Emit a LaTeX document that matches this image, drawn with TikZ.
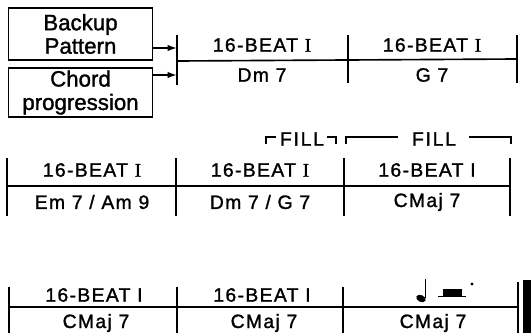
\documentclass[tikz,border=0pt]{standalone}
\usepackage{fontspec}
\setmainfont[FakeBold=1.4]{Liberation Sans}
\newfontfamily\romfont[FakeBold=1.4]{Liberation Serif}
\usetikzlibrary{arrows.meta, positioning}
\newcommand{\romI}{{\romfont I}}

\tikzset{
  srcbox/.style={draw, line width=1.4pt, minimum width=4.32cm, align=center, inner sep=0pt,
    font=\fontsize{19}{20}\selectfont\addfontfeatures{FakeBold=1.4}},
  beat/.style={inner sep=0pt, font=\fontsize{16.5}{18}\selectfont\addfontfeatures{LetterSpace=7,FakeBold=1.4}},
  chord/.style={inner sep=0pt, font=\fontsize{16.5}{18}\selectfont\addfontfeatures{LetterSpace=7,FakeBold=1.4}},
  fillmark/.style={inner sep=0pt, font=\fontsize{16.5}{18}\selectfont\addfontfeatures{LetterSpace=9,FakeBold=1.4}},
  barln/.style={line width=1.4pt},
}

\begin{document}
\begin{tikzpicture}[x=0.03cm, y=-0.03cm]
    \useasboundingbox (0,0) rectangle (531,333);

    % source boxes
    \node[srcbox, minimum height=1.56cm] (backup) at (80.5,34) {Backup\\Pattern};
    \node[srcbox, minimum height=1.47cm] (chordprog) at (80.5,92.5) {Chord\\progression};

    % row 1
    \coordinate (in1) at (177,48);
    \coordinate (in2) at (177,75);
    \draw[barln] (177,35) -- (177,85); % start bar
    \draw[barln] (348,35) -- (348,83);
    \draw[barln] (517,35) -- (517,83);
    \draw[barln] (177,61) -- (517,59); % middle line
    \draw[barln, -{Latex[length=8pt,width=5.5pt]}] (backup.east |- in1) -- (in1);
    \draw[barln, -{Latex[length=8pt,width=5.5pt]}] (chordprog.east |- in2) -- (in2);
    \node[beat] (p11) at (262,45) {16-BEAT \romI};
    \node[beat] (p12) at (432,45) {16-BEAT \romI};
    \node[chord] (c11) at (262,75) {Dm 7};
    \node[chord] (c12) at (432,75) {G 7};

    % FILL marks
    \node[fillmark] (fill1) at (302,139) {FILL};
    \draw[barln] (266,144) -- (266,137) -- (276,137);
    \draw[barln] (327,137) -- (336,137) -- (336,144);
    \node[fillmark] (fill2) at (434,139) {FILL};
    \draw[barln] (346,144) -- (346,137) -- (398,137);
    \draw[barln] (469,137) -- (511,137) -- (511,144);

    % row 2
    \draw[barln] (7,158) -- (7,216);
    \draw[barln] (176,158) -- (176,216);
    \draw[barln] (344,158) -- (344,216);
    \draw[barln] (510,158) -- (510,216);
    \draw[barln] (7,186) -- (510,186);
    \node[beat] (p21) at (92,170) {16-BEAT \romI};
    \node[beat] (p22) at (260,170) {16-BEAT \romI};
    \node[beat] (p23) at (427,170) {16-BEAT I};
    \node[chord] (c21) at (92,202) {Em 7 / Am 9};
    \node[chord] (c22) at (260,202) {Dm 7 / G 7};
    \node[chord] (c23) at (427,202) {CMaj 7};

    % row 3
    \draw[barln] (9,287) -- (9,333);
    \draw[barln] (177,287) -- (177,333);
    \draw[barln] (343,287) -- (343,333);
    \draw[barln] (518,282) -- (518,333);
    \fill (523,280) rectangle (531,333); % end bar
    \draw[barln] (9,307) -- (518,307);
    \node[beat] (p31) at (94,295) {16-BEAT I};
    \node[beat] (p32) at (262,295) {16-BEAT I};
    \node[chord] (c31) at (96,323) {CMaj 7};
    \node[chord] (c32) at (264,323) {CMaj 7};
    \node[chord] (c33) at (433,323) {CMaj 7};

    % quarter note and dotted half rest
    \fill[rotate around={-25:(421,298.5)}] (421,298.5) ellipse (5 and 3.4);
    \draw[line width=1.2pt] (425.5,298) -- (425.5,279);
    \draw[line width=1.4pt] (438,296.5) -- (466,296.5);
    \fill (443,288.5) rectangle (462,296.5);
    \fill (472,284) circle (1.7);
\end{tikzpicture}
\end{document}
